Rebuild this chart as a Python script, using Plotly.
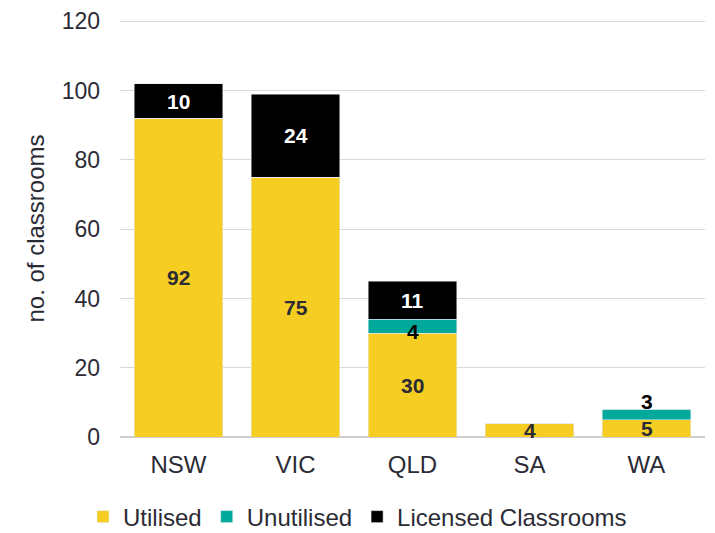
import plotly.graph_objects as go

states = ["NSW", "VIC", "QLD", "SA", "WA"]
utilised = [92, 75, 30, 4, 5]
unutilised = [0, 0, 4, 0, 3]
licensed = [10, 24, 11, 0, 0]
y_ticks = [0, 20, 40, 60, 80, 100, 120]

YELLOW = "#F5CD23"
TEAL = "#00A99A"
BLACK = "#000000"
DARK = "#2b2b36"
FONT = "Liberation Sans, Arial, sans-serif"

fig = go.Figure()
fig.add_bar(name="Utilised", x=states, y=utilised, marker_color=YELLOW)
fig.add_bar(name="Unutilised", x=states, y=unutilised, marker_color=TEAL)
fig.add_bar(name="Licensed Classrooms", x=states, y=licensed, marker_color=BLACK)

annotations = []
for i, s in enumerate(states):
    base = 0
    for vals, color, key in [(utilised, DARK, "u"), (unutilised, BLACK, "n"), (licensed, "#ffffff", "l")]:
        v = vals[i]
        if v > 0:
            yv = base + v / 2
            yshift = 0
            if key == "n":
                if s == "WA":
                    yv = base + v
                    yshift = 8
                else:
                    yshift = -5
            annotations.append(dict(
                x=s, y=yv, xref="x", yref="y", text=str(v), showarrow=False,
                yshift=yshift,
                font=dict(family=FONT, size=21, color=color, weight="bold"),
            ))
        base += v

fig.update_layout(
    barmode="stack",
    bargap=0.24,
    width=715, height=533,
    margin=dict(l=120, r=10, t=20, b=96, autoexpand=False),
    plot_bgcolor="white", paper_bgcolor="white",
    font=dict(family=FONT, size=23, color=DARK),
    showlegend=True,
    legend=dict(
        orientation="h",
        x=0.5, xref="container", xanchor="center",
        y=0.03, yref="container", yanchor="middle",
        font=dict(family=FONT, size=24, color=DARK),
        itemwidth=30, tracegroupgap=0, traceorder="normal",
    ),
    annotations=annotations,
)
fig.update_yaxes(
    range=[0, 120.4], tickvals=y_ticks, showgrid=True, gridcolor="#d9d9d9", gridwidth=1,
    zeroline=True, zerolinecolor="#cfcfcf", zerolinewidth=1.5, automargin=False,
    title=dict(text="no. of classrooms", standoff=10, font=dict(size=24, color=DARK)),
    tickfont=dict(size=23, color=DARK), ticklabelstandoff=19,
)
fig.update_xaxes(
    tickfont=dict(size=24, color=DARK), ticklabelstandoff=11, showline=False, automargin=False,
)

fig.write_html(
    "out.html",
    config={"displayModeBar": False},
    post_script="document.body.style.margin='0';document.body.style.overflow='hidden';",
)
